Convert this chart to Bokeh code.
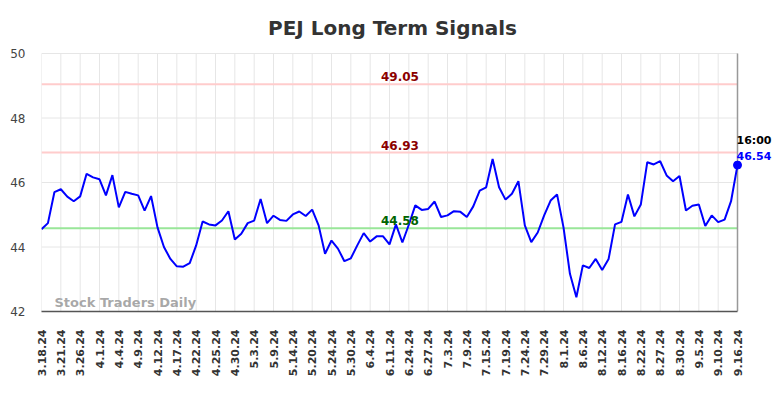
import math
from bokeh.plotting import figure
from bokeh.models import Range1d, FixedTicker, Label
from bokeh.embed import file_html
from bokeh.resources import INLINE

chart_title = "PEJ Long Term Signals"
watermark = "Stock Traders Daily"

tick_labels = ["3.18.24", "3.21.24", "3.26.24", "4.1.24", "4.4.24", "4.9.24", "4.12.24",
               "4.17.24", "4.22.24", "4.25.24", "4.30.24", "5.3.24", "5.9.24", "5.14.24",
               "5.20.24", "5.24.24", "5.30.24", "6.4.24", "6.11.24", "6.24.24", "6.27.24",
               "7.3.24", "7.9.24", "7.15.24", "7.19.24", "7.24.24", "7.29.24", "8.1.24",
               "8.6.24", "8.12.24", "8.16.24", "8.22.24", "8.27.24", "8.30.24", "9.5.24",
               "9.10.24", "9.16.24"]
tick_step = 3

prices = [44.55, 44.74, 45.70, 45.79, 45.56, 45.42, 45.57, 46.27, 46.16, 46.10,
          45.60, 46.23, 45.23, 45.71, 45.65, 45.60, 45.13, 45.58, 44.61, 44.00,
          43.63, 43.40, 43.39, 43.50, 44.05, 44.79, 44.70, 44.67, 44.82, 45.11,
          44.23, 44.41, 44.74, 44.82, 45.49, 44.74, 44.97, 44.84, 44.81, 45.01,
          45.10, 44.96, 45.16, 44.67, 43.79, 44.20, 43.95, 43.56, 43.65, 44.05,
          44.43, 44.17, 44.33, 44.33, 44.08, 44.70, 44.14, 44.69, 45.29, 45.15,
          45.18, 45.41, 44.93, 44.98, 45.11, 45.09, 44.93, 45.26, 45.75, 45.85,
          46.73, 45.85, 45.47, 45.65, 46.04, 44.67, 44.15, 44.45, 44.98, 45.44,
          45.63, 44.61, 43.17, 42.44, 43.43, 43.35, 43.63, 43.29, 43.63, 44.70,
          44.78, 45.63, 44.95, 45.32, 46.63, 46.56, 46.66, 46.22, 46.04, 46.20,
          45.13, 45.28, 45.32, 44.65, 44.98, 44.77, 44.85, 45.42, 46.54]

y_ticks = [42, 44, 46, 48, 50]
upper_level = 49.05
middle_level = 46.93
support_level = 44.58
last_time = "16:00"

FONT = "DejaVu Sans"

# layout (pixels)
W, H = 780, 396
PLOT_L, PLOT_R, PLOT_T, PLOT_B = 41, 737, 53, 311

xs = list(range(len(prices)))
last_x = xs[-1]
last_y = prices[-1]
y_lo, y_hi = y_ticks[0], y_ticks[-1]

px_per_x = (PLOT_R - PLOT_L) / last_x
px_per_y = (PLOT_B - PLOT_T) / (y_hi - y_lo)
x_end = last_x + (W - PLOT_R) / px_per_x
y_top = y_hi + PLOT_T / px_per_y

p = figure(width=W, height=H, output_backend="svg", toolbar_location=None,
           x_range=Range1d(0, x_end), y_range=Range1d(y_lo, y_top),
           min_border_left=PLOT_L, min_border_right=0, min_border_top=0,
           min_border_bottom=H - PLOT_B)
p.outline_line_color = None
p.background_fill_color = "white"
p.border_fill_color = "white"
p.xgrid.visible = False
p.ygrid.visible = False

x_ticks = list(range(0, len(prices), tick_step))
p.xaxis.ticker = FixedTicker(ticks=x_ticks)
p.xaxis.bounds = (0, last_x)
p.xaxis.major_label_overrides = {t: lbl for t, lbl in zip(x_ticks, tick_labels)}
p.xaxis.major_label_orientation = math.pi / 2
p.xaxis.major_label_text_font = FONT
p.xaxis.major_label_text_font_style = "bold"
p.xaxis.major_label_text_font_size = "11px"
p.xaxis.major_label_text_color = "#333333"
p.xaxis.major_tick_line_color = None
p.xaxis.major_tick_out = 0
p.xaxis.major_tick_in = 0
p.xaxis.minor_tick_line_color = None
p.xaxis.axis_line_color = "#555555"
p.xaxis.axis_line_width = 1.5
p.xaxis.major_label_standoff = 18

p.yaxis.ticker = FixedTicker(ticks=y_ticks)
p.yaxis.major_label_text_font = FONT
p.yaxis.major_label_text_font_size = "12px"
p.yaxis.major_label_text_color = "#444444"
p.yaxis.axis_line_color = None
p.yaxis.major_tick_line_color = None
p.yaxis.major_tick_out = 0
p.yaxis.major_tick_in = 0
p.yaxis.minor_tick_line_color = None
p.yaxis.major_label_standoff = 16

# grid lines restricted to the data area
p.segment(x0=x_ticks, y0=[y_lo] * len(x_ticks), x1=x_ticks, y1=[y_hi] * len(x_ticks),
          line_color="#e6e6e6", line_width=1)
p.segment(x0=[0] * len(y_ticks), y0=y_ticks, x1=[last_x] * len(y_ticks), y1=y_ticks,
          line_color="#e6e6e6", line_width=1)

levels = [upper_level, middle_level, support_level]
level_line_colors = ["#ffcccc", "#ffcccc", "#99e699"]
level_text_colors = ["#8b0000", "#8b0000", "#006400"]
p.segment(x0=[0] * 3, y0=levels, x1=[last_x] * 3, y1=levels,
          line_color=level_line_colors, line_width=2)

p.segment(x0=[last_x], y0=[y_lo], x1=[last_x], y1=[y_hi], line_color="#999999", line_width=1.5)

p.line(xs, prices, line_color="#0000ff", line_width=2)
p.scatter([last_x], [last_y], size=8, color="#0000ff")

label_x = last_x * 0.515
for lvl, col in zip(levels, level_text_colors):
    p.add_layout(Label(x=label_x, y=lvl, text=f"{lvl:.2f}", text_font=FONT,
                       text_font_style="bold", text_font_size="12px", text_color=col,
                       text_align="center", text_baseline="bottom", y_offset=3))

p.add_layout(Label(x=last_x, y=last_y, text=last_time, text_font=FONT, text_font_style="bold",
                   text_font_size="11px", text_color="#000000", text_align="left",
                   text_baseline="bottom", y_offset=18, x_offset=-1))
p.add_layout(Label(x=last_x, y=last_y, text=f"{last_y:.2f}", text_font=FONT, text_font_style="bold",
                   text_font_size="11px", text_color="#0000ff", text_align="left",
                   text_baseline="bottom", y_offset=5, x_offset=-1))

p.add_layout(Label(x=13, y=PLOT_B - 302, x_units="screen", y_units="screen", text=watermark,
                   text_font=FONT, text_font_style="bold", text_font_size="13px",
                   text_color="#999999", text_alpha=0.85, text_baseline="middle"))

p.add_layout(Label(x=392 - PLOT_L, y=PLOT_B - 27, x_units="screen", y_units="screen",
                   text=chart_title, text_font=FONT, text_font_style="bold",
                   text_font_size="20px", text_color="#333333", text_align="center",
                   text_baseline="middle"))

open("out.html", "w").write(file_html(p, INLINE))
